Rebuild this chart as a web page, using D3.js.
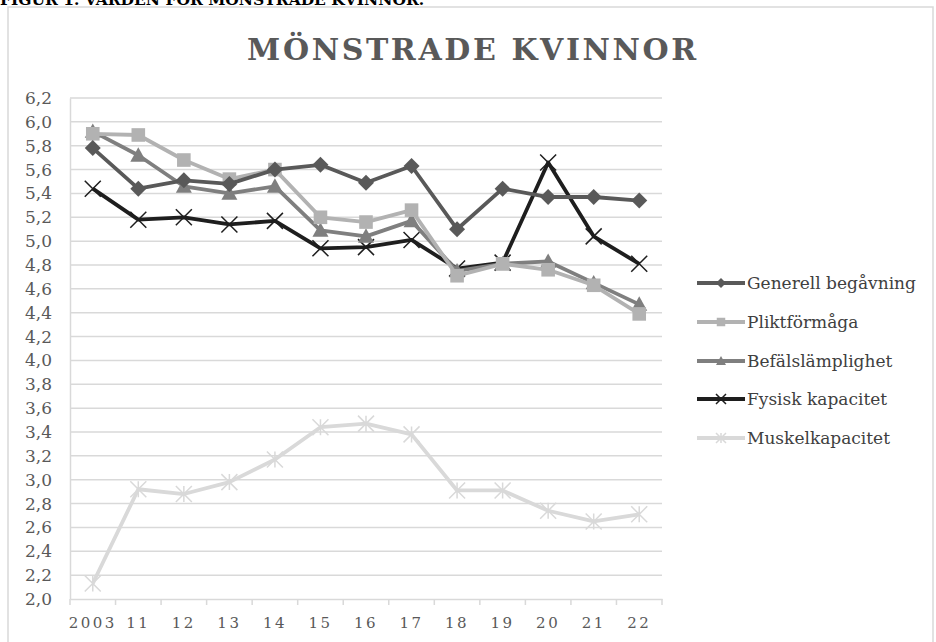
<!DOCTYPE html>
<html>
<head>
<meta charset="utf-8">
<script src="https://cdn.jsdelivr.net/npm/d3@7"></script>
<style>
  html, body { margin: 0; padding: 0; background: #fff; }
  svg { display: block; }
</style>
</head>
<body>
<svg id="chart" width="936" height="642"></svg>
<script>
const categories = ["2003", "11", "12", "13", "14", "15", "16", "17", "18", "19", "20", "21", "22"];
const generell   = [5.78, 5.44, 5.51, 5.48, 5.60, 5.64, 5.49, 5.63, 5.10, 5.44, 5.37, 5.37, 5.34];
const plikt      = [5.90, 5.89, 5.68, 5.52, 5.60, 5.20, 5.16, 5.26, 4.71, 4.81, 4.76, 4.63, 4.39];
const befal      = [5.92, 5.72, 5.46, 5.40, 5.46, 5.09, 5.04, 5.17, 4.75, 4.81, 4.83, 4.65, 4.47];
const fysisk     = [5.44, 5.18, 5.20, 5.14, 5.17, 4.94, 4.95, 5.01, 4.77, 4.82, 5.66, 5.04, 4.81];
const muskel     = [2.13, 2.92, 2.88, 2.98, 3.17, 3.44, 3.47, 3.38, 2.91, 2.91, 2.74, 2.65, 2.71];
const yTicks     = [2.0, 2.2, 2.4, 2.6, 2.8, 3.0, 3.2, 3.4, 3.6, 3.8, 4.0, 4.2, 4.4, 4.6, 4.8, 5.0, 5.2, 5.4, 5.6, 5.8, 6.0, 6.2];

const series = [
  { name: "Generell begåvning", values: generell, color: "#595959", marker: "diamond" },
  { name: "Pliktförmåga",       values: plikt,    color: "#b2b2b2", marker: "square" },
  { name: "Befälslämplighet",   values: befal,    color: "#7f7f7f", marker: "triangle" },
  { name: "Fysisk kapacitet",   values: fysisk,   color: "#1e1e1e", marker: "x" },
  { name: "Muskelkapacitet",    values: muskel,   color: "#d9d9d9", marker: "star" }
];

const svg = d3.select("#chart");
const FONT = "'DejaVu Serif', 'Liberation Serif', serif";

// outer frame
svg.append("rect").attr("x", 8).attr("y", 7).attr("width", 925).attr("height", 660)
  .attr("fill", "none").attr("stroke", "#d9d9d9").attr("stroke-width", 1.5);

// caption (cut off at top, as in the source)
svg.append("text").attr("x", 0).attr("y", 5)
  .attr("font-family", FONT).attr("font-weight", "bold").attr("font-size", 15.5)
  .attr("fill", "#000").text("FIGUR 1. VÄRDEN FÖR MÖNSTRADE KVINNOR.");

// title
svg.append("text").attr("x", 473).attr("y", 60).attr("text-anchor", "middle")
  .attr("font-family", FONT).attr("font-weight", "bold").attr("font-size", 30)
  .attr("letter-spacing", 2.6).attr("fill", "#595959").text("MÖNSTRADE KVINNOR");

const x = d3.scaleBand().domain(categories).range([70, 662]);
const y = d3.scaleLinear().domain([2.0, 6.2]).range([599, 98]);

// gridlines
svg.append("g").selectAll("line").data(yTicks.slice(1)).join("line")
  .attr("x1", 70).attr("x2", 662)
  .attr("y1", d => y(d)).attr("y2", d => y(d))
  .attr("stroke", "#d9d9d9").attr("stroke-width", 1.5);

// y axis
const yAxis = svg.append("g").attr("transform", "translate(70,0)")
  .call(d3.axisLeft(y).tickValues(yTicks).tickSize(0).tickPadding(18)
    .tickFormat(d => d3.format(".1f")(d).replace(".", ",")));
yAxis.select(".domain").attr("stroke", "#d9d9d9").attr("stroke-width", 1.5);
yAxis.selectAll("text").attr("font-family", FONT).attr("font-size", 17).attr("fill", "#595959");

// x axis
const xAxis = svg.append("g").attr("transform", "translate(0,599)")
  .call(d3.axisBottom(x).tickSize(0).tickPadding(18));
xAxis.select(".domain").attr("stroke", "#d9d9d9").attr("stroke-width", 1.5);
xAxis.selectAll("text").attr("font-family", FONT).attr("font-size", 15)
  .attr("letter-spacing", 2.5).attr("fill", "#595959");
// category boundary tick marks
const bounds = categories.map(c => x(c)).concat([x.range()[1]]);
xAxis.append("g").selectAll("line").data(bounds).join("line")
  .attr("x1", d => d).attr("x2", d => d).attr("y1", 0).attr("y2", 6)
  .attr("stroke", "#d9d9d9").attr("stroke-width", 1.5);

const cx = c => x(c) + x.bandwidth() / 2;

function drawMarker(g, type, color, size) {
  const s = size;
  if (type === "diamond") {
    g.append("path").attr("d", `M0,${-s}L${s},0L0,${s}L${-s},0Z`).attr("fill", color);
  } else if (type === "square") {
    g.append("rect").attr("x", -s * 0.85).attr("y", -s * 0.85).attr("width", s * 1.7).attr("height", s * 1.7).attr("fill", color);
  } else if (type === "triangle") {
    g.append("path").attr("d", `M0,${-s}L${s},${s * 0.8}L${-s},${s * 0.8}Z`).attr("fill", color);
  } else if (type === "x") {
    g.append("path").attr("d", `M${-s},${-s}L${s},${s}M${-s},${s}L${s},${-s}`)
      .attr("stroke", color).attr("stroke-width", 1.5).attr("fill", "none");
  } else if (type === "star") {
    g.append("path").attr("d", `M${-s},${-s}L${s},${s}M${-s},${s}L${s},${-s}M0,${-s}L0,${s}`)
      .attr("stroke", color).attr("stroke-width", 1.5).attr("fill", "none");
  }
}

const line = d3.line().x((d, i) => cx(categories[i])).y(d => y(d));

// draw in reverse so first series on top
series.slice().reverse().forEach(s => {
  const g = svg.append("g");
  g.append("path").datum(s.values).attr("d", line)
    .attr("fill", "none").attr("stroke", s.color).attr("stroke-width", 3.8)
    .attr("stroke-linejoin", "round");
  s.values.forEach((v, i) => {
    const mg = g.append("g").attr("transform", `translate(${cx(categories[i])},${y(v)})`);
    drawMarker(mg, s.marker, s.color, 8);
  });
});

// legend
const legendY = [283, 322, 361, 399, 438];
series.forEach((s, i) => {
  const g = svg.append("g").attr("transform", `translate(697,${legendY[i]})`);
  g.append("line").attr("x1", 0).attr("x2", 48).attr("y1", 0).attr("y2", 0)
    .attr("stroke", s.color).attr("stroke-width", 3.8);
  const mg = g.append("g").attr("transform", "translate(24,0)");
  drawMarker(mg, s.marker, s.color, 5);
  g.append("text").attr("x", 50).attr("y", 6)
    .attr("font-family", FONT).attr("font-size", 17).attr("fill", "#404040").text(s.name);
});
</script>
</body>
</html>
